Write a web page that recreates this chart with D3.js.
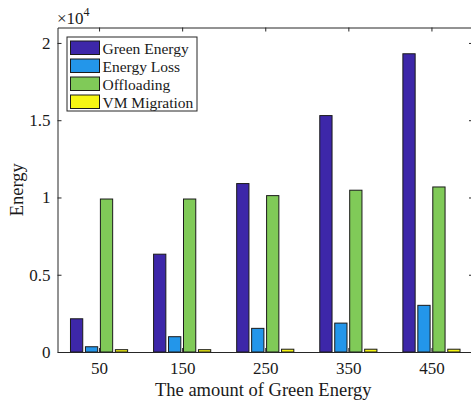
<!DOCTYPE html>
<html><head><meta charset="utf-8">
<script src="https://cdn.jsdelivr.net/npm/d3@7"></script>
<style>
body{margin:0;background:#fff;}
svg{display:block;}
svg text{font-family:"Liberation Serif","Times New Roman",serif;}
</style></head>
<body><svg id="c" width="471" height="403"></svg>
<script>
const categories = [50, 150, 250, 350, 450];
const seriesNames = ["Green Energy", "Energy Loss", "Offloading", "VM Migration"];
const greenEnergy = [2150, 6330, 10900, 15300, 19300];
const energyLoss = [340, 990, 1530, 1870, 3020];
const offloading = [9900, 9900, 10120, 10470, 10680];
const vmMigration = [150, 150, 180, 180, 180];
const colors = ["#3d27a9", "#2396ea", "#80ca58", "#f6f614"];
const yTicks = [0, 5000, 10000, 15000, 20000];
const yTickLabels = ["0", "0.5", "1", "1.5", "2"];

const seriesValues = [greenEnergy, energyLoss, offloading, vmMigration];
const svg = d3.select("#c");
const L = 57.5, R = 473, T = 27.5, B = 352;
const x = d3.scaleLinear().domain([0, 500]).range([L, R]);
const y = d3.scaleLinear().domain([0, 21000]).range([B, T]);
const inner = d3.scaleBand().domain(seriesNames).range([-36, 36]).paddingInner(0.18).paddingOuter(0.09);
const axisColor = "#262626";
const FONT = "Liberation Serif";

// bars
seriesNames.forEach((s, si) => {
  svg.append("g").selectAll("rect").data(categories).join("rect")
    .attr("x", (c) => x(c + inner(s)))
    .attr("width", (c) => x(c + inner(s) + inner.bandwidth()) - x(c + inner(s)))
    .attr("y", (c, i) => y(seriesValues[si][i]))
    .attr("height", (c, i) => y(0) - y(seriesValues[si][i]))
    .attr("fill", colors[si])
    .attr("stroke", "#1a1a1a")
    .attr("stroke-width", 1);
});

// axes
const fs = 17;
const gBottom = svg.append("g").attr("transform", `translate(0,${B})`)
  .call(d3.axisBottom(x).tickValues(categories).tickSizeInner(-4).tickSizeOuter(0).tickPadding(10));
const gTop = svg.append("g").attr("transform", `translate(0,${T})`)
  .call(d3.axisTop(x).tickValues(categories).tickSizeInner(-4).tickSizeOuter(0).tickFormat(""));
const gLeft = svg.append("g").attr("transform", `translate(${L},0)`)
  .call(d3.axisLeft(y).tickValues(yTicks).tickSizeInner(-4).tickSizeOuter(0).tickPadding(7)
    .tickFormat((d, i) => yTickLabels[i]));
const gRight = svg.append("g").attr("transform", `translate(${R},0)`)
  .call(d3.axisRight(y).tickValues(yTicks).tickSizeInner(-4).tickSizeOuter(0).tickFormat(""));
[gBottom, gTop, gLeft, gRight].forEach(g => {
  g.attr("font-family", FONT).attr("font-size", fs);
  g.selectAll("path").attr("stroke", axisColor).attr("stroke-width", 1);
  g.selectAll("line").attr("stroke", axisColor).attr("stroke-width", 1);
  g.selectAll("text").attr("fill", "#1a1a1a");
});

// exponent
const ex = svg.append("text").attr("x", 57).attr("y", 24).attr("fill", "#1a1a1a")
  .attr("font-family", FONT).attr("font-size", 17);
ex.append("tspan").text("\u00d710");
ex.append("tspan").attr("dy", -8).attr("font-size", 12).text("4");

// axis labels
svg.append("text").attr("x", (L + R) / 2 - 2).attr("y", 396).attr("text-anchor", "middle")
  .attr("fill", "#1a1a1a").attr("font-family", FONT).attr("font-size", 18.5).text("The amount of Green Energy");
svg.append("text").attr("transform", `translate(23,${(T + B) / 2}) rotate(-90)`).attr("text-anchor", "middle")
  .attr("fill", "#1a1a1a").attr("font-family", FONT).attr("font-size", 18.5).text("Energy");

// legend
const lg = svg.append("g").attr("transform", "translate(67,37)");
lg.append("rect").attr("width", 130).attr("height", 74).attr("fill", "#fff").attr("stroke", axisColor).attr("stroke-width", 1);
seriesNames.forEach((s, i) => {
  lg.append("rect").attr("x", 3.5).attr("y", 4 + i * 18).attr("width", 29).attr("height", 13.5)
    .attr("fill", colors[i]).attr("stroke", "#1a1a1a").attr("stroke-width", 1);
  lg.append("text").attr("x", 35.5).attr("y", 16.5 + i * 18).attr("fill", "#1a1a1a")
    .attr("font-family", FONT).attr("font-size", 15.5).text(s);
});
</script></body></html>
